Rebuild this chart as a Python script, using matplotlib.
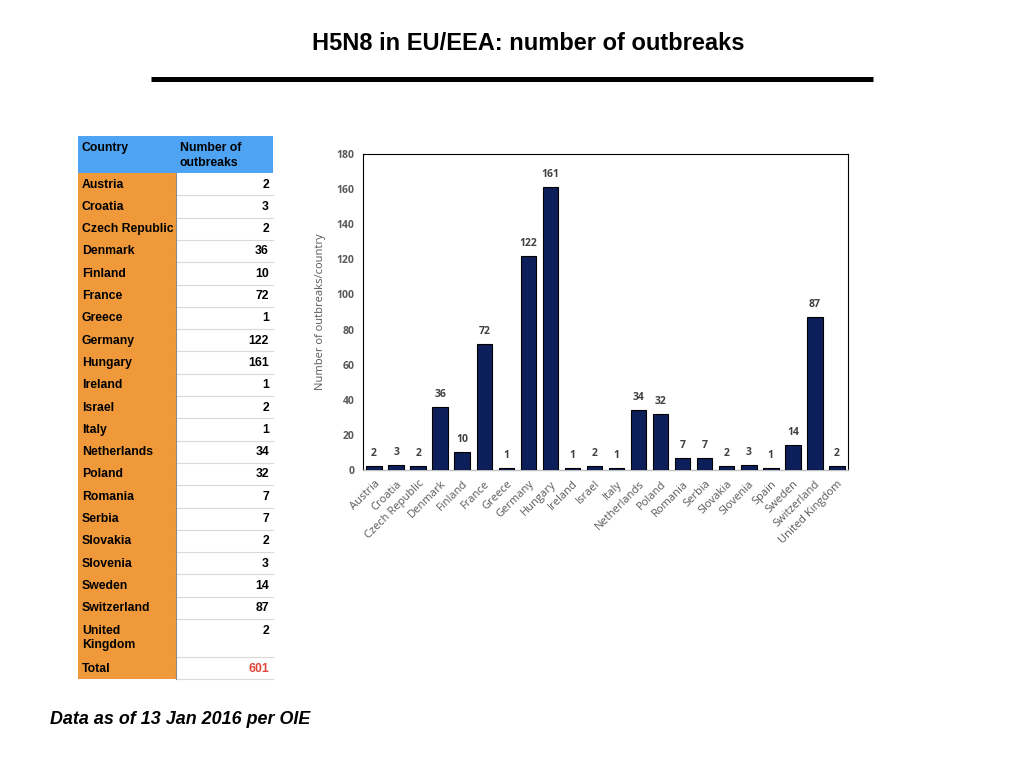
import numpy as np
import matplotlib.pyplot as plt
from matplotlib.patches import Rectangle

# chart data (bar chart)
countries = ["Austria", "Croatia", "Czech Republic", "Denmark", "Finland",
             "France", "Greece", "Germany", "Hungary", "Ireland", "Israel",
             "Italy", "Netherlands", "Poland", "Romania", "Serbia", "Slovakia",
             "Slovenia", "Spain", "Sweden", "Switzerland", "United Kingdom"]
outbreaks = [2, 3, 2, 36, 10, 72, 1, 122, 161, 1, 2, 1, 34, 32, 7, 7, 2, 3,
             1, 14, 87, 2]

# table data (as printed next to the chart)
table_countries = ["Austria", "Croatia", "Czech Republic", "Denmark",
                   "Finland", "France", "Greece", "Germany", "Hungary",
                   "Ireland", "Israel", "Italy", "Netherlands", "Poland",
                   "Romania", "Serbia", "Slovakia", "Slovenia", "Sweden",
                   "Switzerland", "United\nKingdom"]
table_values = [2, 3, 2, 36, 10, 72, 1, 122, 161, 1, 2, 1, 34, 32, 7, 7, 2,
                3, 14, 87, 2]
table_total = 601

W, H = 1024, 768
NAVY = "#0d1f5a"
GREY_TXT = "#595959"


def fx(x):
    return x / W


def fy(y):
    return 1 - y / H


def draw_table(fig):
    """Draw the country table with figure patches and texts."""
    x0, x1, x2 = 78, 176, 273
    font = dict(family="Liberation Sans", weight="bold", fontsize=8.8)

    def cell(x, y, w, h, color):
        fig.patches.append(Rectangle((fx(x), fy(y + h)), w / W, h / H,
                                     transform=fig.transFigure,
                                     facecolor=color, edgecolor="none"))

    # header
    cell(x0, 136, x2 - x0, 37, "#4ea3f2")
    fig.text(fx(x0 + 4), fy(142), "Country", va="top", **font)
    fig.text(fx(x1 + 4), fy(142), "Number of\noutbreaks", va="top",
             linespacing=1.3, **font)

    top = 173
    rows = list(zip(table_countries, table_values)) + [("Total", table_total)]
    for name, val in rows:
        h = 38 if "\n" in name else 22.3
        cell(x0, top, x1 - x0, h, "#f0993b")
        cell(x1, top, x2 - x1, h, "white")
        fig.lines.append(plt.Line2D([fx(x1), fx(x2)], [fy(top + h)] * 2,
                                    transform=fig.transFigure,
                                    color="#d9d9d9", lw=0.8))
        color = "#e0463a" if name == "Total" else "black"
        fig.text(fx(x0 + 4), fy(top + 5.5), name, va="top",
                 linespacing=1.3, **font)
        fig.text(fx(x2 - 4), fy(top + 5.5), str(val), va="top", ha="right",
                 color=color, **font)
        top += h
    fig.lines.append(plt.Line2D([fx(x1), fx(x1)], [fy(173), fy(top)],
                                transform=fig.transFigure,
                                color="#8c8c8c", lw=0.8))


def main():
    fig = plt.figure(figsize=(10.24, 7.68), dpi=100)

    fig.text(fx(528), fy(44), "H5N8 in EU/EEA: number of outbreaks",
             ha="center", va="center", fontsize=17, weight="bold",
             family="Liberation Sans")
    fig.lines.append(plt.Line2D([fx(151), fx(873)], [fy(79), fy(79)],
                                transform=fig.transFigure,
                                color="black", lw=3.6,
                                solid_capstyle="butt"))

    draw_table(fig)

    ax = fig.add_axes([fx(363), fy(470), (848 - 363) / W, (470 - 154) / H])
    x = np.arange(len(countries))
    bars = ax.bar(x, outbreaks, width=0.7, color=NAVY, edgecolor="black",
                  linewidth=0.8, zorder=3)
    for b, v in zip(bars, outbreaks):
        ax.text(b.get_x() + b.get_width() / 2, v + 4, str(v), ha="center",
                va="bottom", fontsize=7.5, weight="bold", color="#404040",
                family="Open Sans")
    ax.set_xlim(-0.5, len(countries) - 0.5)
    ax.set_ylim(0, 180)
    ax.set_yticks(range(0, 181, 20))
    ax.set_xticks(x)
    ax.set_xticklabels(countries, rotation=45, ha="right",
                       rotation_mode="anchor", fontsize=8, color=GREY_TXT,
                       family="Open Sans")
    for lab in ax.get_yticklabels():
        lab.set_fontsize(7.5)
        lab.set_color(GREY_TXT)
        lab.set_family("Open Sans")
        lab.set_weight("bold")
    ax.tick_params(length=0, pad=6)
    ax.set_ylabel("Number of outbreaks/country", fontsize=8,
                  color=GREY_TXT, family="Open Sans", labelpad=8)
    for side in ["top", "right", "left"]:
        ax.spines[side].set_color("black")
        ax.spines[side].set_linewidth(0.8)
    ax.spines["bottom"].set_color("#bfbfbf")
    ax.spines["bottom"].set_linewidth(1.0)

    fig.text(fx(50), fy(720), "Data as of 13 Jan 2016 per OIE", ha="left",
             va="center", fontsize=12.9, weight="bold", style="italic",
             family="Liberation Sans")

    fig.savefig("out.png", dpi=100)


if __name__ == "__main__":
    main()
